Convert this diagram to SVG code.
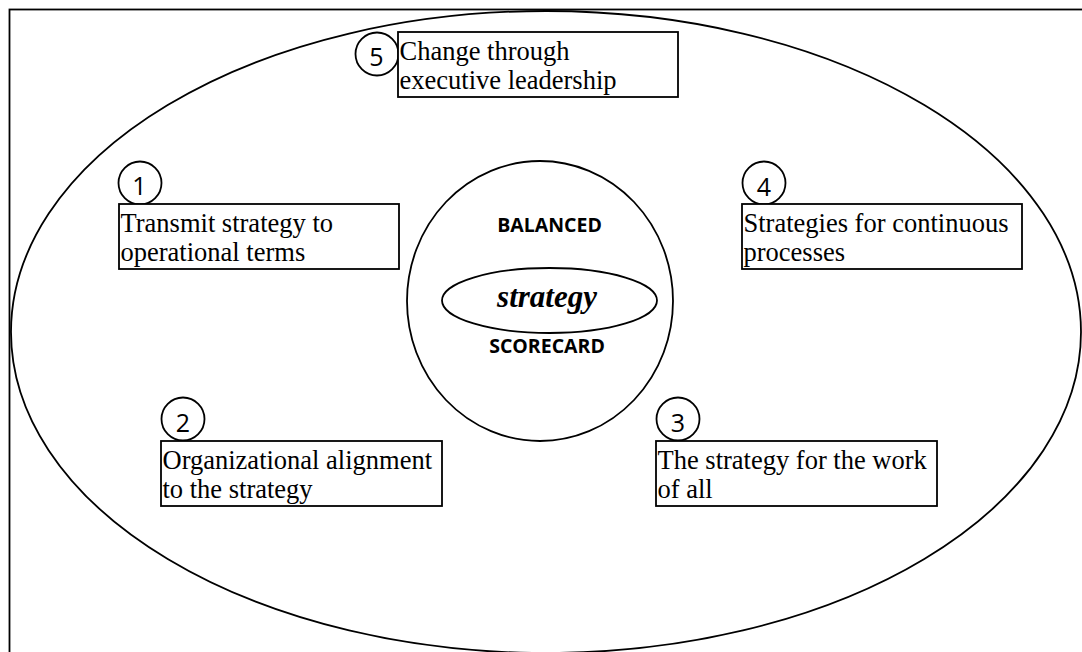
<svg xmlns="http://www.w3.org/2000/svg" width="1082" height="652" viewBox="0 0 1082 652">
<style>
.ln{fill:none;stroke:#000;stroke-width:1.8}
.bx{fill:#fff;stroke:#000;stroke-width:1.8}
.lbl{font-family:"Liberation Serif","Times New Roman",serif;font-size:26.5px;fill:#000}
.num{font-family:"Open Sans","Liberation Sans",sans-serif;font-size:25px;fill:#000;text-anchor:middle}
.bsc{font-family:"Open Sans","Liberation Sans",sans-serif;font-size:19.5px;font-weight:bold;fill:#000;text-anchor:middle}
.str{font-family:"Liberation Serif","Times New Roman",serif;font-size:31px;font-weight:bold;font-style:italic;fill:#000;text-anchor:middle}
</style>
<rect width="1082" height="652" fill="#fff"/>
<rect id="frame" class="ln" x="9.5" y="9.5" width="1090" height="660" stroke-width="2"/>
<g id="connectors"></g>
<g id="outer">
<ellipse class="ln" cx="546" cy="332" rx="535" ry="321"/>
</g>
<g id="balanced-scorecard">
<ellipse class="ln" cx="540" cy="301" rx="133" ry="140"/>
<text class="bsc" x="549.5" y="232">BALANCED</text>
<text class="bsc" x="547" y="353">SCORECARD</text>
</g>
<g id="strategy">
<ellipse class="ln" cx="549.5" cy="300.5" rx="107.5" ry="32.5"/>
<text class="str" x="547" y="307">strategy</text>
</g>
<g id="node5">
<circle class="ln" cx="377" cy="54" r="21.5"/>
<text class="num" x="376.5" y="66">5</text>
<rect class="bx" x="398" y="32" width="280" height="65"/>
<text class="lbl" x="399.5" y="60">Change through</text>
<text class="lbl" x="399.5" y="89">executive leadership</text>
</g>
<g id="node1">
<circle class="ln" cx="140" cy="183" r="21.5"/>
<text class="num" x="139.5" y="195">1</text>
<rect class="bx" x="119" y="204" width="280" height="65"/>
<text class="lbl" x="120.5" y="232">Transmit strategy to</text>
<text class="lbl" x="120.5" y="261">operational terms</text>
</g>
<g id="node4">
<circle class="ln" cx="764" cy="183" r="21.5"/>
<text class="num" x="764" y="196">4</text>
<rect class="bx" x="742" y="204" width="280" height="65"/>
<text class="lbl" x="743.5" y="232">Strategies for continuous</text>
<text class="lbl" x="743.5" y="261">processes</text>
</g>
<g id="node2">
<circle class="ln" cx="183" cy="419" r="21.5"/>
<text class="num" x="183" y="432">2</text>
<rect class="bx" x="161" y="441" width="281" height="65"/>
<text class="lbl" x="162.5" y="469">Organizational alignment</text>
<text class="lbl" x="162.5" y="498">to the strategy</text>
</g>
<g id="node3">
<circle class="ln" cx="678" cy="419" r="21.5"/>
<text class="num" x="678" y="432">3</text>
<rect class="bx" x="656" y="441" width="281" height="65"/>
<text class="lbl" x="657.5" y="469">The strategy for the work</text>
<text class="lbl" x="657.5" y="498">of all</text>
</g>
</svg>
